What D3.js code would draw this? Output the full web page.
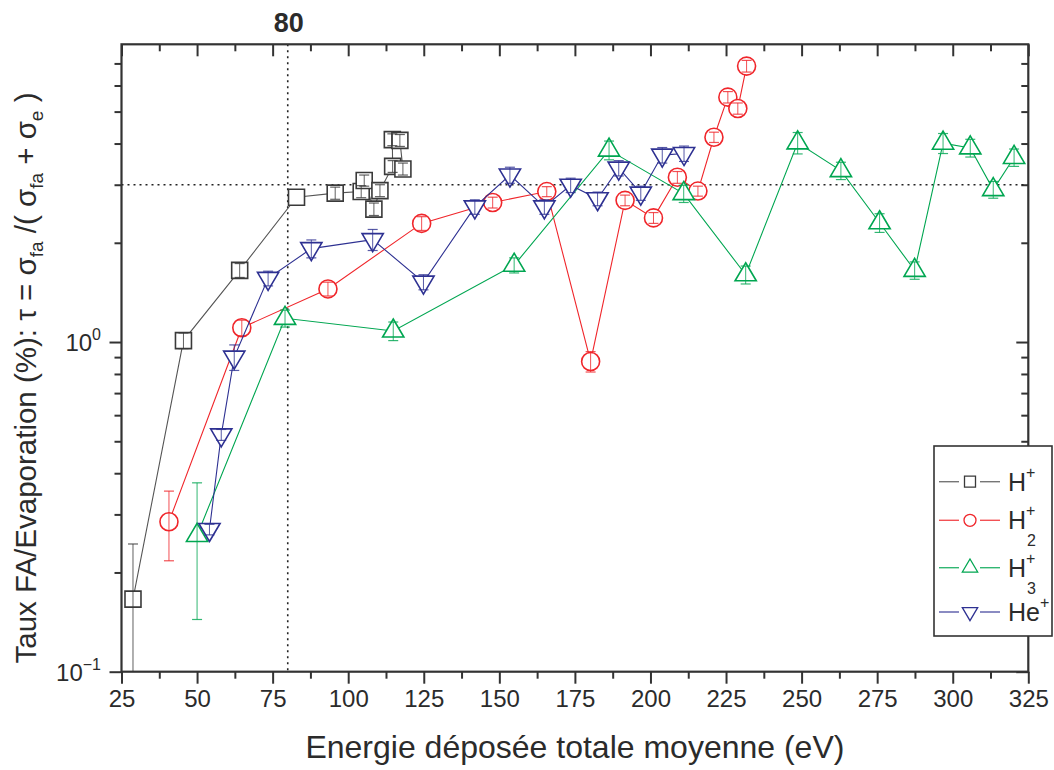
<!DOCTYPE html>
<html><head><meta charset="utf-8">
<script src="https://cdn.jsdelivr.net/npm/d3@7"></script>
<style>
body{margin:0;background:#fff}
text{font-family:"Liberation Sans",Arial,Helvetica,sans-serif;fill:#2b2b2b}
</style>
</head><body>
<svg id="chart" width="1054" height="770"></svg>
<script>
// ---------- data ----------
const hpX   = [28.8, 45.5, 64.1, 82.9, 95.7, 104.3, 105.3, 108.5, 110.5, 114.7, 114.6, 117.1, 118.1];
const hpY   = [0.166, 1.01, 1.65, 2.75, 2.83, 2.86, 3.09, 2.53, 2.88, 3.41, 4.11, 4.09, 3.35];
const hpErr = [0.078, 0.055, 0.08, 0, 0.12, 0.12, 0.12, 0.11, 0.12, 0.14, 0.17, 0.17, 0.14];

const h2X   = [40.7, 64.8, 93.3, 124.3, 147.8, 165.7, 180.2, 191.6, 201.0, 208.9, 215.7, 221.0, 225.6, 228.9, 231.8];
const h2Y   = [0.285, 1.105, 1.449, 2.29, 2.65, 2.86, 0.873, 2.69, 2.38, 3.16, 2.87, 4.18, 5.53, 5.11, 6.87];
const h2Err = [0.068, 0.06, 0.07, 0.11, 0.1, 0.1, 0.062, 0.1, 0.09, 0.13, 0.1, 0.15, 0.22, 0.2, 0.28];

const h3X   = [50.0, 79.1, 114.9, 154.9, 186.3, 211.0, 231.5, 248.7, 263.0, 275.8, 287.4, 296.8, 305.8, 313.4, 320.3];
const h3Y   = [0.259, 1.18, 1.08, 1.71, 3.82, 2.82, 1.60, 4.02, 3.31, 2.30, 1.65, 4.01, 3.88, 2.90, 3.63];
const h3Err = [0.115, 0.07, 0.07, 0.09, 0.25, 0.17, 0.1, 0.3, 0.2, 0.15, 0.1, 0.28, 0.24, 0.17, 0.22];

const heX   = [54.1, 58.0, 62.3, 73.5, 87.8, 108.1, 124.9, 141.9, 153.5, 164.9, 173.6, 182.5, 189.5, 196.8, 203.9, 211.1];
const heY   = [0.27, 0.523, 0.90, 1.56, 1.92, 2.045, 1.52, 2.57, 3.21, 2.57, 2.99, 2.72, 3.37, 2.83, 3.69, 3.73];
const heErr = [0.01, 0.02, 0.08, 0.08, 0.12, 0.15, 0.08, 0.13, 0.18, 0.13, 0.15, 0.13, 0.18, 0.14, 0.2, 0.2];

const seriesNames  = ["H", "H", "H", "He"];
const seriesSub    = ["", "2", "3", ""];
const seriesColors = ["#3a3a3a", "#f0262b", "#00a651", "#2e3192"];
const lineColors   = ["#555555", "#f0262b", "#00a651", "#2e3192"];
const seriesShapes = ["square", "circle", "triangleUp", "triangleDown"];

const xTicks = [25, 50, 75, 100, 125, 150, 175, 200, 225, 250, 275, 300, 325];
const yMajor = [0.1, 1];
const yMinor = [0.2, 0.3, 0.4, 0.5, 0.6, 0.7, 0.8, 0.9, 2, 3, 4, 5, 6, 7];
const refX = 80, refY = 3;

// ---------- layout ----------
const L = 121.5, R = 1028.3, T = 44.3, B = 671.7;
const svg = d3.select("#chart");
const x = d3.scaleLinear().domain([25, 325]).range([L, R]);
const y = d3.scaleLog().domain([0.1, 8]).range([B, T]);

svg.append("defs").append("clipPath").attr("id", "clip")
  .append("rect").attr("x", L).attr("y", T).attr("width", R - L).attr("height", B - T);

const xMinor = d3.range(37.5, 325, 25);

function styleAxis(g) {
  g.select(".domain").remove();
  g.selectAll(".tick line").attr("stroke", "#333").attr("stroke-width", 2);
}
const axCol = "#333";
svg.append("g").attr("transform", `translate(0,${B})`)
  .call(d3.axisBottom(x).tickValues(xTicks).tickSize(12).tickSizeOuter(0).tickFormat(d => d).tickPadding(6))
  .call(styleAxis)
  .call(g => g.selectAll(".tick text").attr("font-size", 24).attr("fill", "#2b2b2b")
      .attr("font-family", '"Liberation Sans",Arial,sans-serif'));
svg.append("g").attr("transform", `translate(0,${B})`)
  .call(d3.axisBottom(x).tickValues(xMinor).tickSize(7).tickFormat(""))
  .call(styleAxis);
svg.append("g").attr("transform", `translate(0,${T})`)
  .call(d3.axisBottom(x).tickValues(xTicks).tickSize(12).tickFormat(""))
  .call(styleAxis);
svg.append("g").attr("transform", `translate(0,${T})`)
  .call(d3.axisBottom(x).tickValues(xMinor).tickSize(7).tickFormat(""))
  .call(styleAxis);
svg.append("g").attr("transform", `translate(${L},0)`)
  .call(d3.axisLeft(y).tickValues(yMajor).tickSize(12).tickFormat(""))
  .call(styleAxis);
svg.append("g").attr("transform", `translate(${L},0)`)
  .call(d3.axisLeft(y).tickValues(yMinor).tickSize(7).tickFormat(""))
  .call(styleAxis);
svg.append("g").attr("transform", `translate(${R},0)`)
  .call(d3.axisLeft(y).tickValues(yMajor).tickSize(12).tickFormat(""))
  .call(styleAxis);
svg.append("g").attr("transform", `translate(${R},0)`)
  .call(d3.axisLeft(y).tickValues(yMinor).tickSize(7).tickFormat(""))
  .call(styleAxis);

yMajor.forEach(v => {
  const t = svg.append("text").attr("x", 101).attr("y", y(v) + 9)
    .attr("text-anchor", "end").attr("font-size", 24);
  t.append("tspan").text("10");
  t.append("tspan").attr("dy", -11).attr("font-size", 16).text(String(Math.round(Math.log10(v))).replace("-", "\u2212"));
});

const plot = svg.append("g").attr("clip-path", "url(#clip)");
plot.append("line").attr("x1", x(25)).attr("x2", x(325)).attr("y1", y(refY)).attr("y2", y(refY))
  .attr("stroke", "#222").attr("stroke-width", 1.6).attr("stroke-dasharray", "2,4");
plot.append("line").attr("x1", x(refX)).attr("x2", x(refX)).attr("y1", T).attr("y2", B)
  .attr("stroke", "#222").attr("stroke-width", 1.6).attr("stroke-dasharray", "2,4");
svg.append("text").attr("x", x(refX) + 1).attr("y", 32).attr("text-anchor", "middle")
  .attr("font-size", 27).attr("font-weight", "bold").text(refX);

function symbolPath(shape, s) {
  if (shape === "square") return `M${-s/2},${-s/2}h${s}v${s}h${-s}Z`;
  if (shape === "circle") { const r = s/2; return `M${-r},0a${r},${r} 0 1,0 ${2*r},0a${r},${r} 0 1,0 ${-2*r},0Z`; }
  const w = s * 1.18, h = s;
  if (shape === "triangleUp") return `M0,${-2*h/3}L${w/2},${h/3}L${-w/2},${h/3}Z`;
  return `M0,${2*h/3}L${w/2},${-h/3}L${-w/2},${-h/3}Z`;
}
const symSize = {square: 16, circle: 18, triangleUp: 18, triangleDown: 18};

const seriesData = [
  [hpX, hpY, hpErr], [h2X, h2Y, h2Err], [h3X, h3Y, h3Err], [heX, heY, heErr]
].map(([xs, ys, es], i) => ({
  pts: xs.map((xv, j) => ({x: xv, y: ys[j], e: es[j]})),
  color: seriesColors[i], line: lineColors[i], shape: seriesShapes[i]
}));

const line = d3.line().x(d => x(d.x)).y(d => y(d.y));
seriesData.forEach(s => {
  const g = plot.append("g");
  g.append("path").datum(s.pts).attr("d", line).attr("fill", "none")
    .attr("stroke", s.line).attr("stroke-width", 1.1);
  g.selectAll(".sym").data(s.pts).join("path")
    .attr("transform", d => `translate(${x(d.x)},${y(d.y)})`)
    .attr("d", symbolPath(s.shape, symSize[s.shape]))
    .attr("fill", "#fff").attr("stroke", s.color).attr("stroke-width", 1.6);
  const eb = g.selectAll(".eb").data(s.pts.filter(d => d.e > 0)).join("g");
  eb.append("line").attr("x1", d => x(d.x)).attr("x2", d => x(d.x))
    .attr("y1", d => y(Math.max(d.y - d.e, 0.05))).attr("y2", d => y(d.y + d.e))
    .attr("stroke", s.color).attr("stroke-width", 1).attr("opacity", 0.8);
  [1, -1].forEach(sg => {
    eb.filter(d => d.y - d.e > 0.1 || sg > 0).append("line")
      .attr("x1", d => x(d.x) - 5).attr("x2", d => x(d.x) + 5)
      .attr("y1", d => y(d.y + sg * d.e)).attr("y2", d => y(d.y + sg * d.e))
      .attr("stroke", s.color).attr("stroke-width", 1.2).attr("opacity", 0.8);
  });
});

svg.append("rect").attr("x", L).attr("y", T).attr("width", R - L).attr("height", B - T)
  .attr("fill", "none").attr("stroke", axCol).attr("stroke-width", 2.2);

svg.append("text").attr("x", (L + R) / 2).attr("y", 758).attr("text-anchor", "middle")
  .attr("font-size", 32).text("Energie déposée totale moyenne (eV)");
const yt = svg.append("text").attr("transform", "translate(36,378) rotate(-90)")
  .attr("text-anchor", "middle").attr("font-size", 29.5);
yt.append("tspan").text("Taux FA/Evaporation (%): \u03C4 = \u03C3");
yt.append("tspan").attr("dy", 7).attr("font-size", 19).text("fa");
yt.append("tspan").attr("dy", -7).text(" /( \u03C3");
yt.append("tspan").attr("dy", 7).attr("font-size", 19).text("fa");
yt.append("tspan").attr("dy", -7).text(" + \u03C3");
yt.append("tspan").attr("dy", 7).attr("font-size", 19).text("e");
yt.append("tspan").attr("dy", -7).text(" )");

// legend
const lgX = 934, lgY = 446, lgW = 118;
const rowY = [481.7, 520.3, 567.7, 612];
svg.append("rect").attr("x", lgX).attr("y", lgY).attr("width", lgW).attr("height", 190)
  .attr("fill", "#fff").attr("stroke", axCol).attr("stroke-width", 1.6);
const legSize = {square: 11, circle: 12, triangleUp: 13, triangleDown: 13};
seriesData.forEach((s, i) => {
  const ry = rowY[i];
  const g = svg.append("g");
  g.append("line").attr("x1", 939).attr("x2", 959).attr("y1", ry).attr("y2", ry).attr("stroke", s.line).attr("stroke-width", 1.4).attr("opacity", 0.8);
  g.append("line").attr("x1", 980).attr("x2", 1000).attr("y1", ry).attr("y2", ry).attr("stroke", s.line).attr("stroke-width", 1.4).attr("opacity", 0.8);
  g.append("path").attr("transform", `translate(970,${ry})`).attr("d", symbolPath(s.shape, legSize[s.shape]))
    .attr("fill", "#fff").attr("stroke", s.color).attr("stroke-width", 1.3);
  const t = g.append("text").attr("x", 1008).attr("y", ry + 9).attr("font-size", 25);
  t.append("tspan").text(seriesNames[i]);
  t.append("tspan").attr("dy", -13).attr("font-size", 16).text("+");
  if (seriesSub[i]) {
    t.append("tspan").attr("x", 1027).attr("dy", 30).attr("font-size", 16).text(seriesSub[i]);
  }
});
</script>
</body></html>
